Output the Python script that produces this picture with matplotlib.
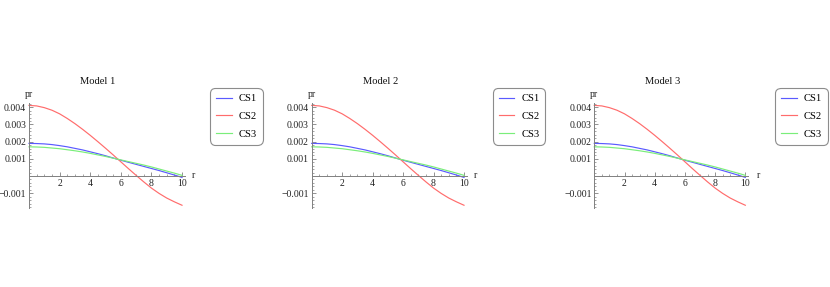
import matplotlib
matplotlib.use("Agg")
import matplotlib.pyplot as plt
from matplotlib.ticker import MultipleLocator, FixedLocator, FixedFormatter

plt.rcParams['font.family'] = ['Liberation Serif', 'DejaVu Serif']

models = ["Model 1", "Model 2", "Model 3"]
series_names = ["CS1", "CS2", "CS3"]
colors = ["#5a5aff", "#ff6c6c", "#7aee7a"]

r = [0, 0.5, 1, 1.5, 2, 2.5, 3, 3.5, 4, 4.5, 5, 5.5, 6, 6.5, 7, 7.5, 8, 8.5, 9, 9.5, 10]
cs1 = [0.00190, 0.00189, 0.00187, 0.00183, 0.00177, 0.00170, 0.00161, 0.00152, 0.00141,
       0.00130, 0.00118, 0.00105, 0.00092, 0.00080, 0.00068, 0.00056, 0.00044, 0.00032,
       0.00019, 0.00006, -0.00008]
cs2 = [0.00411, 0.00408, 0.00398, 0.00383, 0.00362, 0.00335, 0.00305, 0.00272, 0.00237,
       0.00200, 0.00162, 0.00123, 0.00083, 0.00043, 0.00004, -0.00034, -0.00070, -0.00101,
       -0.00128, -0.00150, -0.00170]
cs3 = [0.00170, 0.00169, 0.00167, 0.00163, 0.00159, 0.00153, 0.00147, 0.00140, 0.00132,
       0.00123, 0.00114, 0.00104, 0.00094, 0.00084, 0.00074, 0.00064, 0.00053, 0.00041,
       0.00029, 0.00017, 0.00004]
data = [cs1, cs2, cs3]

xticks = [2, 4, 6, 8, 10]
xticklabels = ["2", "4", "6", "8", "10"]
yticks = [-0.001, 0.001, 0.002, 0.003, 0.004]
yticklabels = ["\u22120.001", "0.001", "0.002", "0.003", "0.004"]

W, H = 830, 287
fig = plt.figure(figsize=(W / 100, H / 100), dpi=100)

lefts_px = [29, 311.7, 594.3]
scale_px = [15.3, 15.23, 15.1]
top_px, bot_px = 103, 208
xmax = 10.2
ymin, ymax = -0.00186, 0.00425
axcol = "#808080"

for i, left in enumerate(lefts_px):
    wpx = scale_px[i] * xmax
    ax = fig.add_axes([left / W, 1 - bot_px / H, wpx / W, (bot_px - top_px) / H])
    ax.set_xlim(0, xmax)
    ax.set_ylim(ymin, ymax)
    ax.patch.set_alpha(0)
    for name, ys, c in zip(series_names, data, colors):
        ax.plot(r, ys, color=c, lw=0.85, label=name, clip_on=False)
    for s in ["top", "right"]:
        ax.spines[s].set_visible(False)
    ax.spines["left"].set_position(("data", 0))
    ax.spines["bottom"].set_position(("data", 0))
    for s in ["left", "bottom"]:
        ax.spines[s].set_color(axcol)
        ax.spines[s].set_linewidth(0.7)
    ax.xaxis.set_major_locator(FixedLocator(xticks))
    ax.xaxis.set_major_formatter(FixedFormatter(xticklabels))
    ax.yaxis.set_major_locator(FixedLocator(yticks))
    ax.yaxis.set_major_formatter(FixedFormatter(yticklabels))
    ax.xaxis.set_minor_locator(MultipleLocator(0.5))
    ax.yaxis.set_minor_locator(MultipleLocator(0.0002))
    ax.tick_params(which="major", direction="in", length=3, width=0.6, color=axcol,
                   labelsize=7, pad=2, labelcolor="#222222")
    ax.tick_params(which="minor", direction="in", length=1.5, width=0.5, color=axcol)
    fig.text((left + 4.5 * scale_px[i]) / W, 1 - 81 / H, models[i], ha="center", va="center",
             fontsize=7.6, color="#111111")
    fig.text(left / W, 1 - 95 / H, "pr", ha="center", va="center", fontsize=7, color="#222222")
    fig.text((left + 164) / W, 1 - 176 / H, "r", ha="center", va="center", fontsize=7,
             color="#222222")
    leg = ax.legend(loc="upper left",
                    bbox_to_anchor=(181 / wpx, (bot_px - 88) / (bot_px - top_px)),
                    fontsize=7.6, frameon=True, fancybox=True, handlelength=1.5,
                    handletextpad=0.65, labelspacing=0.8, borderpad=0.55,
                    borderaxespad=0)
    fr = leg.get_frame()
    fr.set_edgecolor("#707070")
    fr.set_linewidth(0.8)
    fr.set_boxstyle("round,pad=0,rounding_size=0.5")

fig.savefig("out.png", dpi=100)
